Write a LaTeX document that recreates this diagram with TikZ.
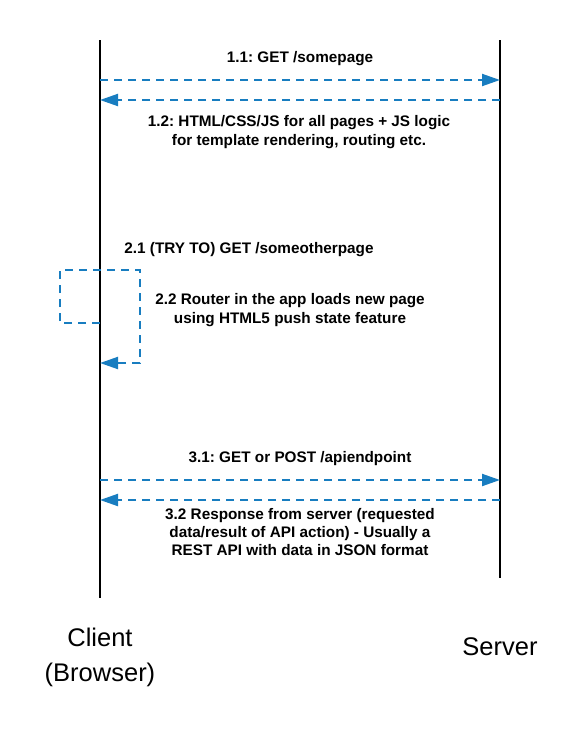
\documentclass[tikz,border=0pt]{standalone}
\usepackage{fontspec}
\setmainfont{Liberation Sans}
\usetikzlibrary{arrows.meta}
\definecolor{flowblue}{RGB}{24,125,192}
\begin{document}
\begin{tikzpicture}[x=1pt,y=-1pt,
  lifeline/.style={line width=2pt,black},
  msg/.style={line width=2pt,flowblue,dash pattern=on 8pt off 6pt,-{Triangle[length=18pt,width=12pt]}},
  lbl/.style={inner sep=0pt,align=center,font=\frenchspacing\fontsize{15.3}{18.4}\selectfont\bfseries},
  actor/.style={inner sep=0pt,align=center,font=\fontsize{25.5}{35}\selectfont}]
\useasboundingbox (0,0) rectangle (580,734);
% lifelines
\coordinate (ctop) at (100,40);
\coordinate (cbot) at (100,598);
\coordinate (stop) at (500,40);
\coordinate (sbot) at (500,578);
\draw[lifeline] (ctop) -- (cbot);
\draw[lifeline] (stop) -- (sbot);
% message endpoints
\coordinate (c11) at (100,80);  \coordinate (s11) at (500,80);
\coordinate (c12) at (100,100); \coordinate (s12) at (500,100);
\coordinate (c31) at (100,480); \coordinate (s31) at (500,480);
\coordinate (c32) at (100,500); \coordinate (s32) at (500,500);
\coordinate (la) at (100,323);
\coordinate (lb) at (100,363);
% messages
\draw[msg] (c11) -- (s11);
\draw[msg] (s12) -- (c12);
\draw[msg] (c31) -- (s31);
\draw[msg] (s32) -- (c32);
\draw[msg] (la) -- (60,323) -- (60,270) -- (140,270) -- (140,363) -- (lb);
% labels
\node[lbl] (t11) at (300,59) {1.1: GET /somepage};
\node[lbl] (t12) at (299,132) {1.2: HTML/CSS/JS for all pages + JS logic\\for template rendering, routing etc.};
\node[lbl] (t21) at (249,249.5) {2.1 (TRY TO) GET /someotherpage};
\node[lbl] (t22) at (290,310) {2.2 Router in the app loads new page\\using HTML5 push state feature};
\node[lbl] (t31) at (300,459) {3.1: GET or POST /apiendpoint};
\node[lbl] (t32) at (300,532) {3.2 Response from server (requested\\data/result of API action) - Usually a\\REST API with data in JSON format};
% actors
\node[actor] (client) at (100,657) {Client\\(Browser)};
\node[actor] (server) at (500,647) {Server};
\end{tikzpicture}
\end{document}
